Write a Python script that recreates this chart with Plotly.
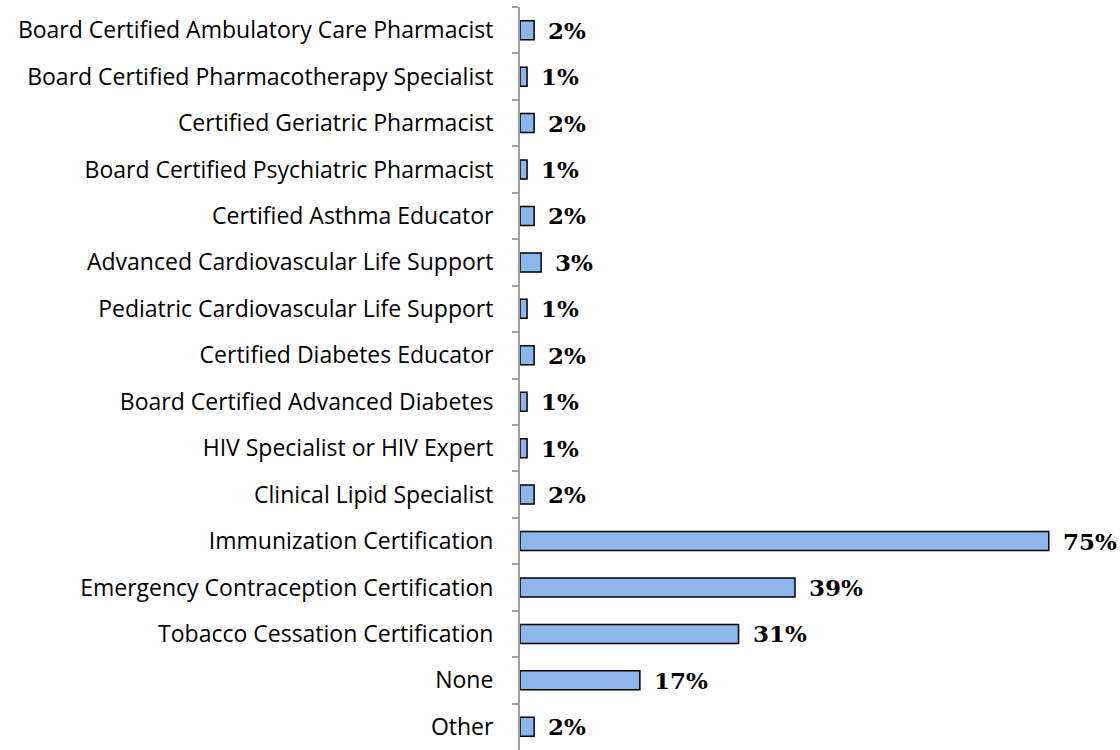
import plotly.graph_objects as go

categories = [
    "Board Certified Ambulatory Care Pharmacist",
    "Board Certified Pharmacotherapy Specialist",
    "Certified Geriatric Pharmacist",
    "Board Certified Psychiatric Pharmacist",
    "Certified Asthma Educator",
    "Advanced Cardiovascular Life Support",
    "Pediatric Cardiovascular Life Support",
    "Certified Diabetes Educator",
    "Board Certified Advanced Diabetes",
    "HIV Specialist or HIV Expert",
    "Clinical Lipid Specialist",
    "Immunization Certification",
    "Emergency Contraception Certification",
    "Tobacco Cessation Certification",
    "None",
    "Other",
]
values = [2, 1, 2, 1, 2, 3, 1, 2, 1, 1, 2, 75, 39, 31, 17, 2]
labels = [f"{v}%" for v in values]

fig = go.Figure(
    go.Bar(
        x=values,
        y=categories,
        orientation="h",
        marker=dict(color="#8db6ec", line=dict(color="#000000", width=1.5)),
        hoverinfo="skip",
    )
)

for v, c, t in zip(values, categories, labels):
    fig.add_annotation(
        x=v, y=c, text=t, xref="x", yref="y",
        xanchor="left", yanchor="middle", xshift=12, showarrow=False,
        font=dict(family="DejaVu Serif", size=23, color="#000000", weight="bold"),
    )

fig.update_layout(
    width=1120,
    height=750,
    margin=dict(l=520, r=36, t=7, b=0),
    plot_bgcolor="white",
    paper_bgcolor="white",
    bargap=0.59,
    showlegend=False,
)
fig.update_xaxes(range=[0, 80], visible=False)
fig.update_yaxes(
    autorange="reversed",
    showline=True,
    linecolor="#a0a0a0",
    linewidth=2,
    ticks="outside",
    tickson="boundaries",
    ticklen=6,
    tickcolor="#a0a0a0",
    tickwidth=2,
    ticklabelstandoff=20,
    tickfont=dict(family="Open Sans", size=23, color="#000000"),
    showgrid=False,
)

fig.write_html(
    "out.html",
    config={"displayModeBar": False},
    post_script="document.body.style.margin='0';",
)
